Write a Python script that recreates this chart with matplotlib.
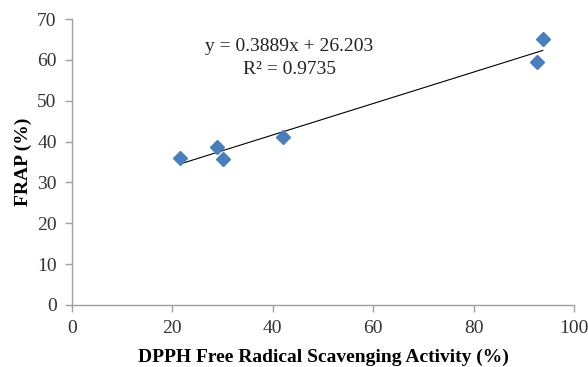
import matplotlib
matplotlib.use("Agg")
import matplotlib.pyplot as plt
import numpy as np

plt.rcParams['font.family'] = ['Liberation Serif', 'DejaVu Serif']

dpph = [21.5, 28.8, 30.0, 42.0, 92.6, 93.8]
frap = [36.0, 38.7, 35.7, 41.2, 59.5, 65.1]
x_ticks = [0, 20, 40, 60, 80, 100]
y_ticks = [0, 10, 20, 30, 40, 50, 60, 70]
eq_text = "y = 0.3889x + 26.203\nR² = 0.9735"

fig = plt.figure(figsize=(5.88, 3.67), dpi=100)
ax = fig.add_axes([0.1224, 0.169, 0.8537, 0.779])

slope, intercept = np.polyfit(dpph, frap, 1)
xs = np.array([min(dpph), max(dpph)])
ax.plot(xs, slope * xs + intercept, color='black', lw=0.8, zorder=2)
ax.plot(dpph, frap, linestyle='none', marker='D', ms=7.0, color='#4A7EBB',
        markeredgecolor='#4A7EBB', zorder=3)

ax.set_xlim(0, 100)
ax.set_ylim(0, 70)
ax.set_xticks(x_ticks)
ax.set_yticks(y_ticks)
for s in ['top', 'right']:
    ax.spines[s].set_visible(False)
for s in ['left', 'bottom']:
    ax.spines[s].set_color('#A0A0A0')
    ax.spines[s].set_linewidth(1.0)
ax.tick_params(direction='out', length=5, width=1.0, color='#A0A0A0',
               labelsize=14, labelcolor='#333333', pad=6)
ax.set_xlabel('DPPH Free Radical Scavenging Activity (%)', fontsize=14,
              fontweight='bold', labelpad=8)
ax.set_ylabel('FRAP (%)', fontsize=14, fontweight='bold', labelpad=4)

ax.text(0.4335, 0.865, eq_text, transform=ax.transAxes, ha='center', va='center',
        fontsize=14, linespacing=1.45, color='#222222')

fig.savefig('out.png', dpi=100)
